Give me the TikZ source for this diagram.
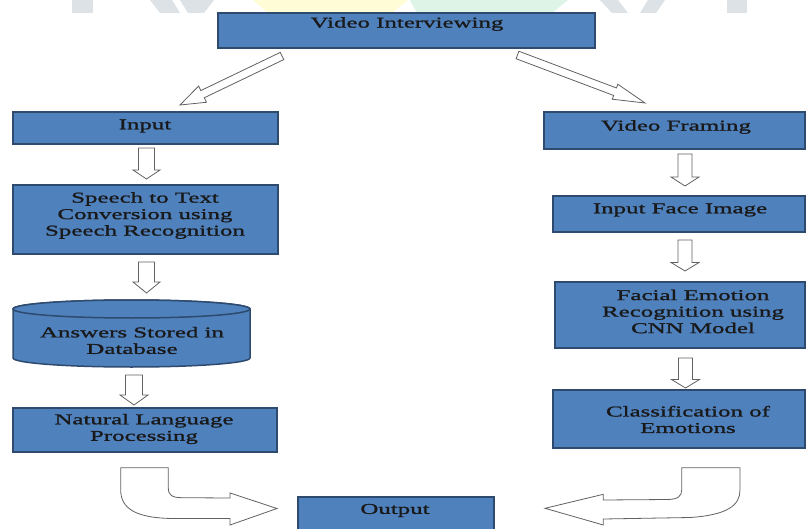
\documentclass[tikz,border=0pt]{standalone}
\usepackage{fontspec}
\setmainfont{Liberation Serif}[FakeStretch=1.66,FakeBold=1.3]
\usetikzlibrary{fit}
\definecolor{boxblue}{HTML}{4F81BD}
\definecolor{boxedge}{HTML}{2E4A6E}
\definecolor{wmgray}{HTML}{DCE2E6}
\definecolor{wmyellow}{HTML}{FFFCD6}
\definecolor{wmgreen}{HTML}{DDF4E7}
\newcommand\hollowarrow[7]{%
  \pgfmathsetmacro\hadx{#3-#1}%
  \pgfmathsetmacro\hady{#4-#2}%
  \pgfmathsetmacro\haL{veclen(\hadx,\hady)}%
  \pgfmathsetmacro\haang{atan2(-\hady,\hadx)}%
  \pgfmathsetmacro\haB{\haL-#5}%
  \draw[harrow,shift={(#1,#2)},rotate=\haang]
    (0,-#7) -- (\haB,-#7) -- (\haB,-#6) -- (\haL,0) -- (\haB,#6) -- (\haB,#7) -- (0,#7) -- cycle;}
\begin{document}
\begin{tikzpicture}[x=1pt,y=-1pt,
  box/.style={draw=boxedge, fill=boxblue, line width=1.5pt, inner sep=0pt, outer sep=0pt},
  txt/.style={font=\fontsize{15}{16.5}\selectfont, text=black!90, align=center, inner sep=0pt},
  harrow/.style={draw=black!62, fill=white, line width=0.8pt, line join=miter}]
\clip (0,0) rectangle (808,529);
\fill[white] (0,0) rectangle (808,529);
% faint watermark remnants
\fill[wmgray] (72,0) rectangle (93,13);
\fill[wmgray] (150,0) -- (172,0) -- (180,13) -- (160,13) -- cycle;
\fill[wmgray] (180,0) -- (214,0) -- (204,13) -- (188,13) -- cycle;
\fill[wmyellow] (253,0) -- (408,0) -- (392,13) -- (268,13) -- cycle;
\fill[wmgreen] (410,0) -- (568,0) -- (552,13) -- (417,13) -- cycle;
\fill[wmgray] (600,0) -- (618,0) -- (628,13) -- (612,13) -- cycle;
\fill[wmgray] (648,0) -- (665,0) -- (656,13) -- (640,13) -- cycle;
\fill[wmgray] (727,0) rectangle (747,13);
% boxes
\node[box, fit={(218,13) (595,48)}] (vi) {};
\node[box, fit={(13,112) (278,144)}] (inp) {};
\node[box, fit={(13,185) (278,254)}] (stt) {};
\node[box, fit={(13,408) (277,452)}] (nlp) {};
\node[box, fit={(298,497) (494,545)}] (out) {};
\node[box, fit={(544,112) (805,149)}] (vf) {};
\node[box, fit={(553,196) (805,232)}] (ifi) {};
\node[box, fit={(555,282) (805,348)}] (fer) {};
\node[box, fit={(553,390) (805,448)}] (coe) {};
% database cylinder
\path[box] (13,309) arc[start angle=180, end angle=360, x radius=118.5, y radius=9]
  -- (250,358) arc[start angle=0, end angle=180, x radius=118.5, y radius=9] -- cycle;
\path[box] (131.5,309) ellipse[x radius=118.5, y radius=9];
\coordinate (db) at (131.5,333);
% texts
\node[txt] (vit) at (407,24) {Video Interviewing};
\node[txt] (inpt) at (145,126) {Input};
\node[txt] (sttt) at (145,215.5) {Speech to Text\\Conversion using\\Speech Recognition};
\node[txt] (dbt) at (132,340.5) {Answers Stored in\\Database};
\node[txt] (nlpt) at (144,429) {Natural Language\\Processing};
\node[txt] (outt) at (395,510.5) {Output};
\node[txt] (vft) at (676,127) {Video Framing};
\node[txt] (ifit) at (680,210) {Input Face Image};
\node[txt] (fert) at (693,311.5) {Facial Emotion\\Recognition using\\CNN Model};
\node[txt] (coet) at (688,419.5) {Classification of\\Emotions};
% diagonal arrows
\hollowarrow{282}{56}{180}{105}{25}{9}{4}
\hollowarrow{517.5}{55}{645}{103}{32}{8}{4}
% down arrows, left
\hollowarrow{146.5}{148}{146.5}{179}{9}{13.5}{8}
\hollowarrow{146.5}{262}{146.5}{293}{11}{13.5}{8}
\hollowarrow{134}{375}{134}{405}{10}{14}{8.5}
% down arrows, right
\hollowarrow{685}{154}{685}{186}{9}{14}{7}
\hollowarrow{685}{240}{685}{271}{8.5}{14}{7}
\hollowarrow{685.5}{358}{685.5}{388}{8.5}{14}{7}
% curved arrows to output
\draw[harrow] (120.7,467.7) -- (168.3,467.7) -- (168.3,488)
  .. controls (168.3,495) and (172,497.7) .. (182,497.7) -- (230,498)
  -- (230,493) -- (277,508.5) -- (230,525) -- (230,518.5) -- (175,518.5)
  .. controls (135,518.5) and (120.7,508) .. (120.7,490) -- cycle;
\draw[harrow] (740,467.7) -- (681.7,467.7) -- (681.7,490)
  .. controls (681.7,496) and (678,499.3) .. (668,499.5) -- (603.3,500)
  -- (603.3,494.3) -- (545,508.3) -- (603.3,525) -- (603.3,519) -- (690,517.5)
  .. controls (728,515) and (740,505) .. (740,490) -- cycle;
\end{tikzpicture}
\end{document}
